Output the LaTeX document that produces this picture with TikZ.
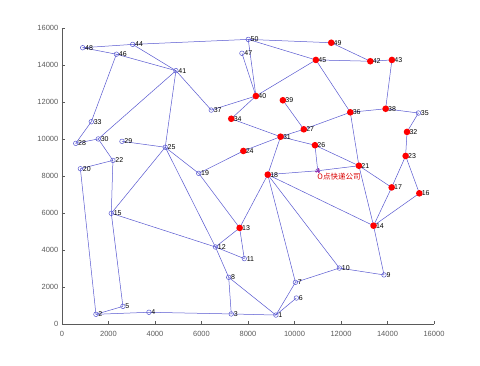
\documentclass[tikz,border=0pt]{standalone}
\usepackage{fontspec}
\setmainfont{Liberation Sans}
\newfontfamily\cjk{Noto Sans CJK SC}
\usetikzlibrary{calc}
\definecolor{linie}{RGB}{88,88,208}
\definecolor{achse}{RGB}{90,90,90}
\definecolor{lila}{RGB}{150,60,180}

\begin{document}
\begin{tikzpicture}[x={(23.25pt,0)},y={(0,18.5pt)},
  kante/.style={linie,line width=.5pt},
  offen/.style={circle,draw=linie,line width=.5pt,inner sep=0pt,minimum size=4.6pt},
  voll/.style={circle,fill=red,inner sep=0pt,minimum size=6.6pt},
  nr/.style={font=\fontsize{7}{8}\selectfont,inner sep=0pt,anchor=west,xshift=2.3pt},
  skala/.style={font=\fontsize{7.5}{9}\selectfont,text=achse,inner sep=0pt},
  firma/.style={font=\cjk\fontsize{7.5}{9}\selectfont,text=red!85!black,inner sep=0pt,anchor=west}]
  \useasboundingbox (-62pt,-40.7pt) rectangle (418pt,324.3pt);
  % Achsen
  \draw[achse,line width=.5pt] (0,16) -- (0,0) -- (16,0);
  % Skalenstriche
  \foreach \t in {0,2,...,16} {
    \pgfmathtruncatemacro\w{\t*1000}
    \draw[achse,line width=.5pt] (\t,0) -- ++(0,3.5pt);
    \draw[achse,line width=.5pt] (0,\t) -- ++(3.5pt,0);
    \node[skala] (sx\t) at ([yshift=-10pt]\t,0) {\w};
    \node[skala,anchor=east] (sy\t) at ([xshift=-3.5pt]0,\t) {\w};
  }
  % Punkte
  \foreach \n/\x/\y in {1/9.2/0.5, 2/1.46/0.54, 3/7.28/0.56, 4/3.74/0.65, 5/2.62/0.97,
      6/10.08/1.42, 7/10.04/2.27, 8/7.17/2.54, 9/13.85/2.67, 10/11.93/3.04,
      11/7.84/3.55, 12/6.6/4.18, 13/7.64/5.21, 14/13.4/5.33, 15/2.12/6.0,
      16/15.37/7.08, 17/14.18/7.4, 18/8.85/8.09, 19/5.88/8.16, 20/0.79/8.41,
      21/12.77/8.57, 22/2.19/8.86, 23/14.78/9.1, 24/7.8/9.37, 25/4.44/9.57,
      26/10.88/9.68, 27/10.4/10.54, 28/0.59/9.78, 29/2.58/9.89, 30/1.56/10.02,
      31/9.4/10.14, 32/14.84/10.4, 33/1.26/10.95, 34/7.28/11.11, 35/15.33/11.42,
      36/12.4/11.46, 37/6.42/11.58, 38/13.92/11.65, 39/9.5/12.11, 40/8.34/12.34,
      41/4.9/13.71, 42/13.26/14.22, 43/14.19/14.29, 44/3.04/15.13, 45/10.92/14.29,
      46/2.34/14.6, 47/7.74/14.65, 48/0.89/14.95, 49/11.58/15.22, 50/8.01/15.4,
      O/11.0/8.3}
    \coordinate (p\n) at (\x,\y);
  % Verbindungen
  \foreach \a/\b in {48/44, 44/50, 48/46, 46/41, 44/41, 46/33, 33/28, 28/30, 30/41,
      30/22, 29/25, 41/37, 41/25, 37/40, 22/20, 22/15, 20/2, 15/5, 15/12, 15/25,
      25/19, 19/24, 24/31, 19/13, 25/12, 12/13, 12/11, 12/8, 8/3, 8/1, 2/5, 2/4,
      4/3, 3/1, 13/11, 13/18, 18/7, 18/10, 18/14, 1/7, 1/6, 7/10, 10/9, 9/14,
      14/17, 14/16, 14/21, 17/23, 17/21, 16/23, 23/32, 32/35, 35/38, 38/36,
      38/43, 43/42, 42/45, 42/49, 49/50, 50/45, 50/40, 47/40, 45/40, 45/36,
      36/27, 36/21, 27/39, 27/31, 31/34, 31/26, 31/18, 26/21, 34/40, 26/O,
      18/O, O/21}
    \draw[kante] (p\a) -- (p\b);
  % Nummern
  \foreach \n in {1,...,50}
    \node[nr] (l\n) at (p\n) {\n};
  % Marker
  \foreach \n in {1,...,12,15,19,20,22,25,28,29,30,33,35,37,41,44,46,47,48,50}
    \node[offen] (m\n) at (p\n) {};
  \foreach \n in {13,14,16,17,18,21,23,24,26,27,31,32,34,36,38,39,40,42,43,45,49}
    \node[voll] (m\n) at (p\n) {};
  % Firma
  \foreach \a in {0,45,90,135}
    \draw[lila,line width=.5pt] ($(pO)+(\a:2.6pt)$) -- ($(pO)+(\a+180:2.6pt)$);
  \node[firma] (tO) at ([xshift=-0.5pt,yshift=-6.3pt]pO) {O点快递公司};
\end{tikzpicture}
\end{document}
